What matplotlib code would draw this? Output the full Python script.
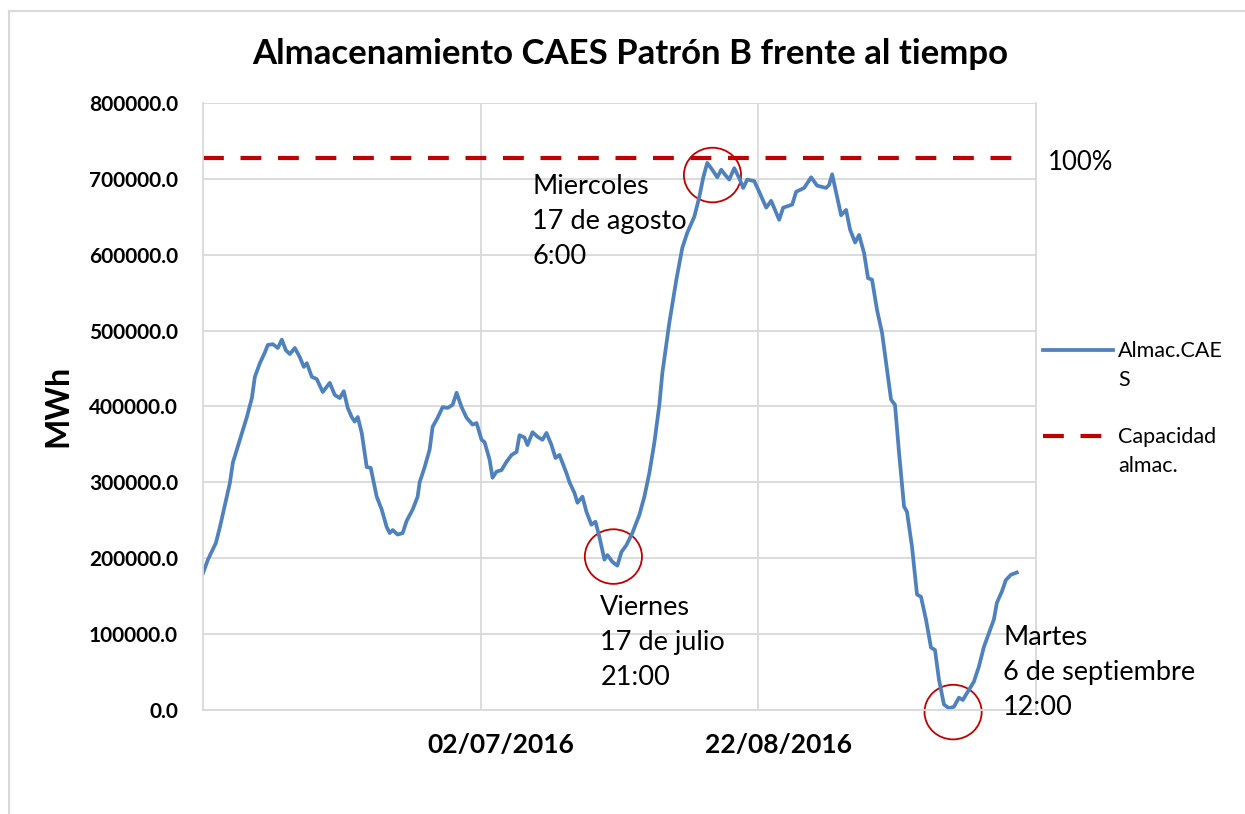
import numpy as np
import pandas as pd
import matplotlib
matplotlib.use("Agg")
import matplotlib.pyplot as plt
import matplotlib.dates as mdates
import matplotlib.transforms as mtrans
from matplotlib.patches import Ellipse
from matplotlib.lines import Line2D
from matplotlib.legend_handler import HandlerLine2D

# datos
inicio = pd.Timestamp("2016-05-12")
dias = [0, 0.92, 2.38, 3.12, 3.85, 4.95, 5.50, 6.79, 8.07, 8.99, 9.54, 10.46, 11.37, 11.92,
        12.84, 13.76, 14.49, 15.23, 15.96, 16.88, 17.79, 18.53, 19.08, 20.00, 20.91, 22.01,
        23.30, 24.22, 25.13, 25.87, 26.60, 27.33, 27.88, 28.44, 29.17, 30.09, 30.82, 31.92,
        32.84, 33.75, 34.31, 34.86, 35.77, 36.69, 37.42, 38.52, 39.44, 39.81, 40.73, 41.64,
        42.19, 43.11, 44.03, 44.95, 45.86, 46.60, 47.51, 48.43, 49.53, 50.27, 51.18, 51.73,
        52.65, 53.20, 53.94, 54.85, 55.77, 56.69, 57.61, 58.15, 59.07, 59.62, 60.54, 61.46,
        62.37, 63.11, 64.03, 64.76, 65.49, 66.78, 67.33, 68.24, 68.80, 69.71, 70.45, 71.36,
        72.10, 72.83, 73.75, 74.30, 75.22, 76.13, 76.87, 77.78, 78.88, 80.17, 81.09, 82.00,
        82.92, 83.84, 84.39, 85.67, 86.96, 88.06, 88.97, 90.26, 91.18, 91.91, 92.64, 93.56,
        94.48, 95.21, 95.95, 96.68, 97.60, 98.51, 99.25, 99.98, 101.27, 102.18, 103.47,
        104.38, 105.85, 106.59, 108.24, 108.97, 110.44, 111.72, 112.82, 114.47, 115.02,
        115.58, 116.49, 117.23, 118.14, 118.88, 119.80, 120.53, 121.45, 122.18, 122.91,
        123.83, 124.75, 125.67, 126.40, 127.13, 127.87, 128.79, 129.33, 130.25, 131.17,
        131.90, 132.82, 133.74, 134.47, 135.20, 136.12, 137.04, 137.95, 138.87, 139.60,
        140.34, 141.62, 142.54, 143.46, 144.38, 145.29, 145.84, 146.76, 147.49, 148.41, 149.51]
almac_kmwh = [180, 198, 220, 241, 264, 299, 326, 356, 386, 411, 439, 457, 471, 481,
              482, 477, 488, 474, 469, 477, 465, 452, 457, 439, 436, 419,
              431, 415, 411, 420, 398, 386, 380, 386, 365, 320, 319, 281,
              264, 241, 233, 237, 231, 233, 249, 264, 281, 300, 320, 343,
              373, 385, 399, 398, 402, 418, 399, 385, 376, 378, 356, 353,
              330, 306, 314, 316, 327, 336, 340, 362, 359, 349, 366, 360,
              356, 365, 349, 332, 336, 312, 300, 286, 273, 281, 261, 244,
              248, 228, 198, 204, 195, 190, 208, 217, 233, 257, 281, 312,
              352, 402, 444, 510, 567, 609, 629, 650, 676, 702, 721, 712,
              702, 712, 705, 699, 714, 701, 688, 699, 697, 683, 662,
              671, 646, 662, 666, 683, 688, 702, 691, 688, 692,
              706, 676, 652, 659, 633, 616, 626, 602, 569, 567,
              527, 497, 448, 409, 402, 339, 268, 261, 215, 152,
              149, 119, 82, 79, 40, 7, 2, 4, 16, 13,
              22, 37, 57, 83, 101, 119, 141, 156, 171, 178, 181]
capacidad = 728000.0

fechas = inicio + pd.to_timedelta(dias, unit="D")
almac = np.array(almac_kmwh) * 1000.0
fin = pd.Timestamp("2016-10-12")
ticks_x = [pd.Timestamp("2016-07-02"), pd.Timestamp("2016-08-22")]

# anotaciones: texto, dia del circulo, valor del circulo, dia del texto, valor del texto
notas = [
    ("Miercoles\n17 de agosto\n6:00", 93.6, 705000, 60.5, 707000),
    ("Viernes\n17 de julio\n21:00", 75.4, 202000, 73.0, 151000),
    ("Martes\n6 de septiembre\n12:00", 137.8, -3000, 147.0, 112000),
]


class LineaArriba(HandlerLine2D):
    # pone la linea de la leyenda a la altura de la primera linea del texto
    def create_artists(self, legend, orig_handle, xdescent, ydescent, width, height,
                       fontsize, trans):
        arts = super().create_artists(legend, orig_handle, xdescent, ydescent, width,
                                      height, fontsize, trans)
        for a in arts:
            a.set_ydata(np.asarray(a.get_ydata()) + 0.74 * fontsize)
        return arts


plt.rcParams['font.family'] = ['Lato', 'DejaVu Sans']

fig = plt.figure(figsize=(12.45, 8.14), dpi=100)
ax = fig.add_axes([0.163, 0.128, 0.669, 0.7455])

azul = "#4F81BD"
rojo = "#C00000"
gris = "#D9D9D9"

l1, = ax.plot(fechas, almac, color=azul, lw=2.7, label="Almac.CAE\nS")
l2, = ax.plot([fechas[0], fechas[-1]], [capacidad, capacidad], color=rojo, lw=3.0,
              ls=(0, (5, 4)), label="Capacidad\nalmac.")

ax.set_xlim(inicio, fin)
ax.set_ylim(0, 800000)
ax.set_yticks(np.arange(0, 800001, 100000))
ax.yaxis.set_major_formatter(matplotlib.ticker.FuncFormatter(lambda v, p: f"{v:.1f}"))
ax.set_xticks(ticks_x)
ax.xaxis.set_major_formatter(mdates.DateFormatter("%d/%m/%Y"))
ax.grid(True, color=gris, lw=1.3)
ax.set_axisbelow(True)
ax.tick_params(axis="y", length=0, labelsize=15, pad=18)
ax.tick_params(axis="x", length=0, labelsize=19, pad=17)
desplaza = mtrans.ScaledTranslation(0.2, 0, fig.dpi_scale_trans)
for lab in ax.get_xticklabels():
    lab.set_fontweight("bold")
    lab.set_transform(lab.get_transform() + desplaza)
for lab in ax.get_yticklabels():
    lab.set_fontweight("bold")
ax.spines["top"].set_visible(False)
for s in ["left", "bottom", "right"]:
    ax.spines[s].set_color(gris)
    ax.spines[s].set_linewidth(1.3)

ax.set_ylabel("MWh", fontsize=23, fontweight="bold")
ax.yaxis.set_label_coords(-0.157, 0.5)
fig.suptitle("Almacenamiento CAES Patrón B frente al tiempo", x=0.506, y=0.953,
             fontsize=25, fontweight="bold")

for texto, dc, vc, dt, vt in notas:
    ax.add_patch(Ellipse((mdates.date2num(inicio + pd.Timedelta(days=dc)), vc),
                         width=10.5, height=72000, fill=False, ec=rojo, lw=1.3,
                         clip_on=False))
    ax.text(inicio + pd.Timedelta(days=dt), vt, texto, fontsize=19.5, va="top",
            linespacing=1.5, clip_on=False)

ax.text(1.0144, 0.9025, "100%", transform=ax.transAxes, fontsize=18.5,
        va="center", ha="left")

leg = fig.legend(handles=[l1, l2], loc="upper left", bbox_to_anchor=(0.822, 0.605),
                 frameon=False, fontsize=15.5, handlelength=3.25, labelspacing=1.75,
                 handletextpad=0.25, handler_map={Line2D: LineaArriba()})
for t in leg.get_texts():
    t.set_linespacing(1.55)

# borde del area del grafico
fig.add_artist(Line2D([9 / 1245, 1], [1 - 11 / 814, 1 - 11 / 814], color=gris, lw=1.5))
fig.add_artist(Line2D([9 / 1245, 9 / 1245], [0, 1 - 11 / 814], color=gris, lw=1.5))

fig.savefig("out.png", dpi=100)
